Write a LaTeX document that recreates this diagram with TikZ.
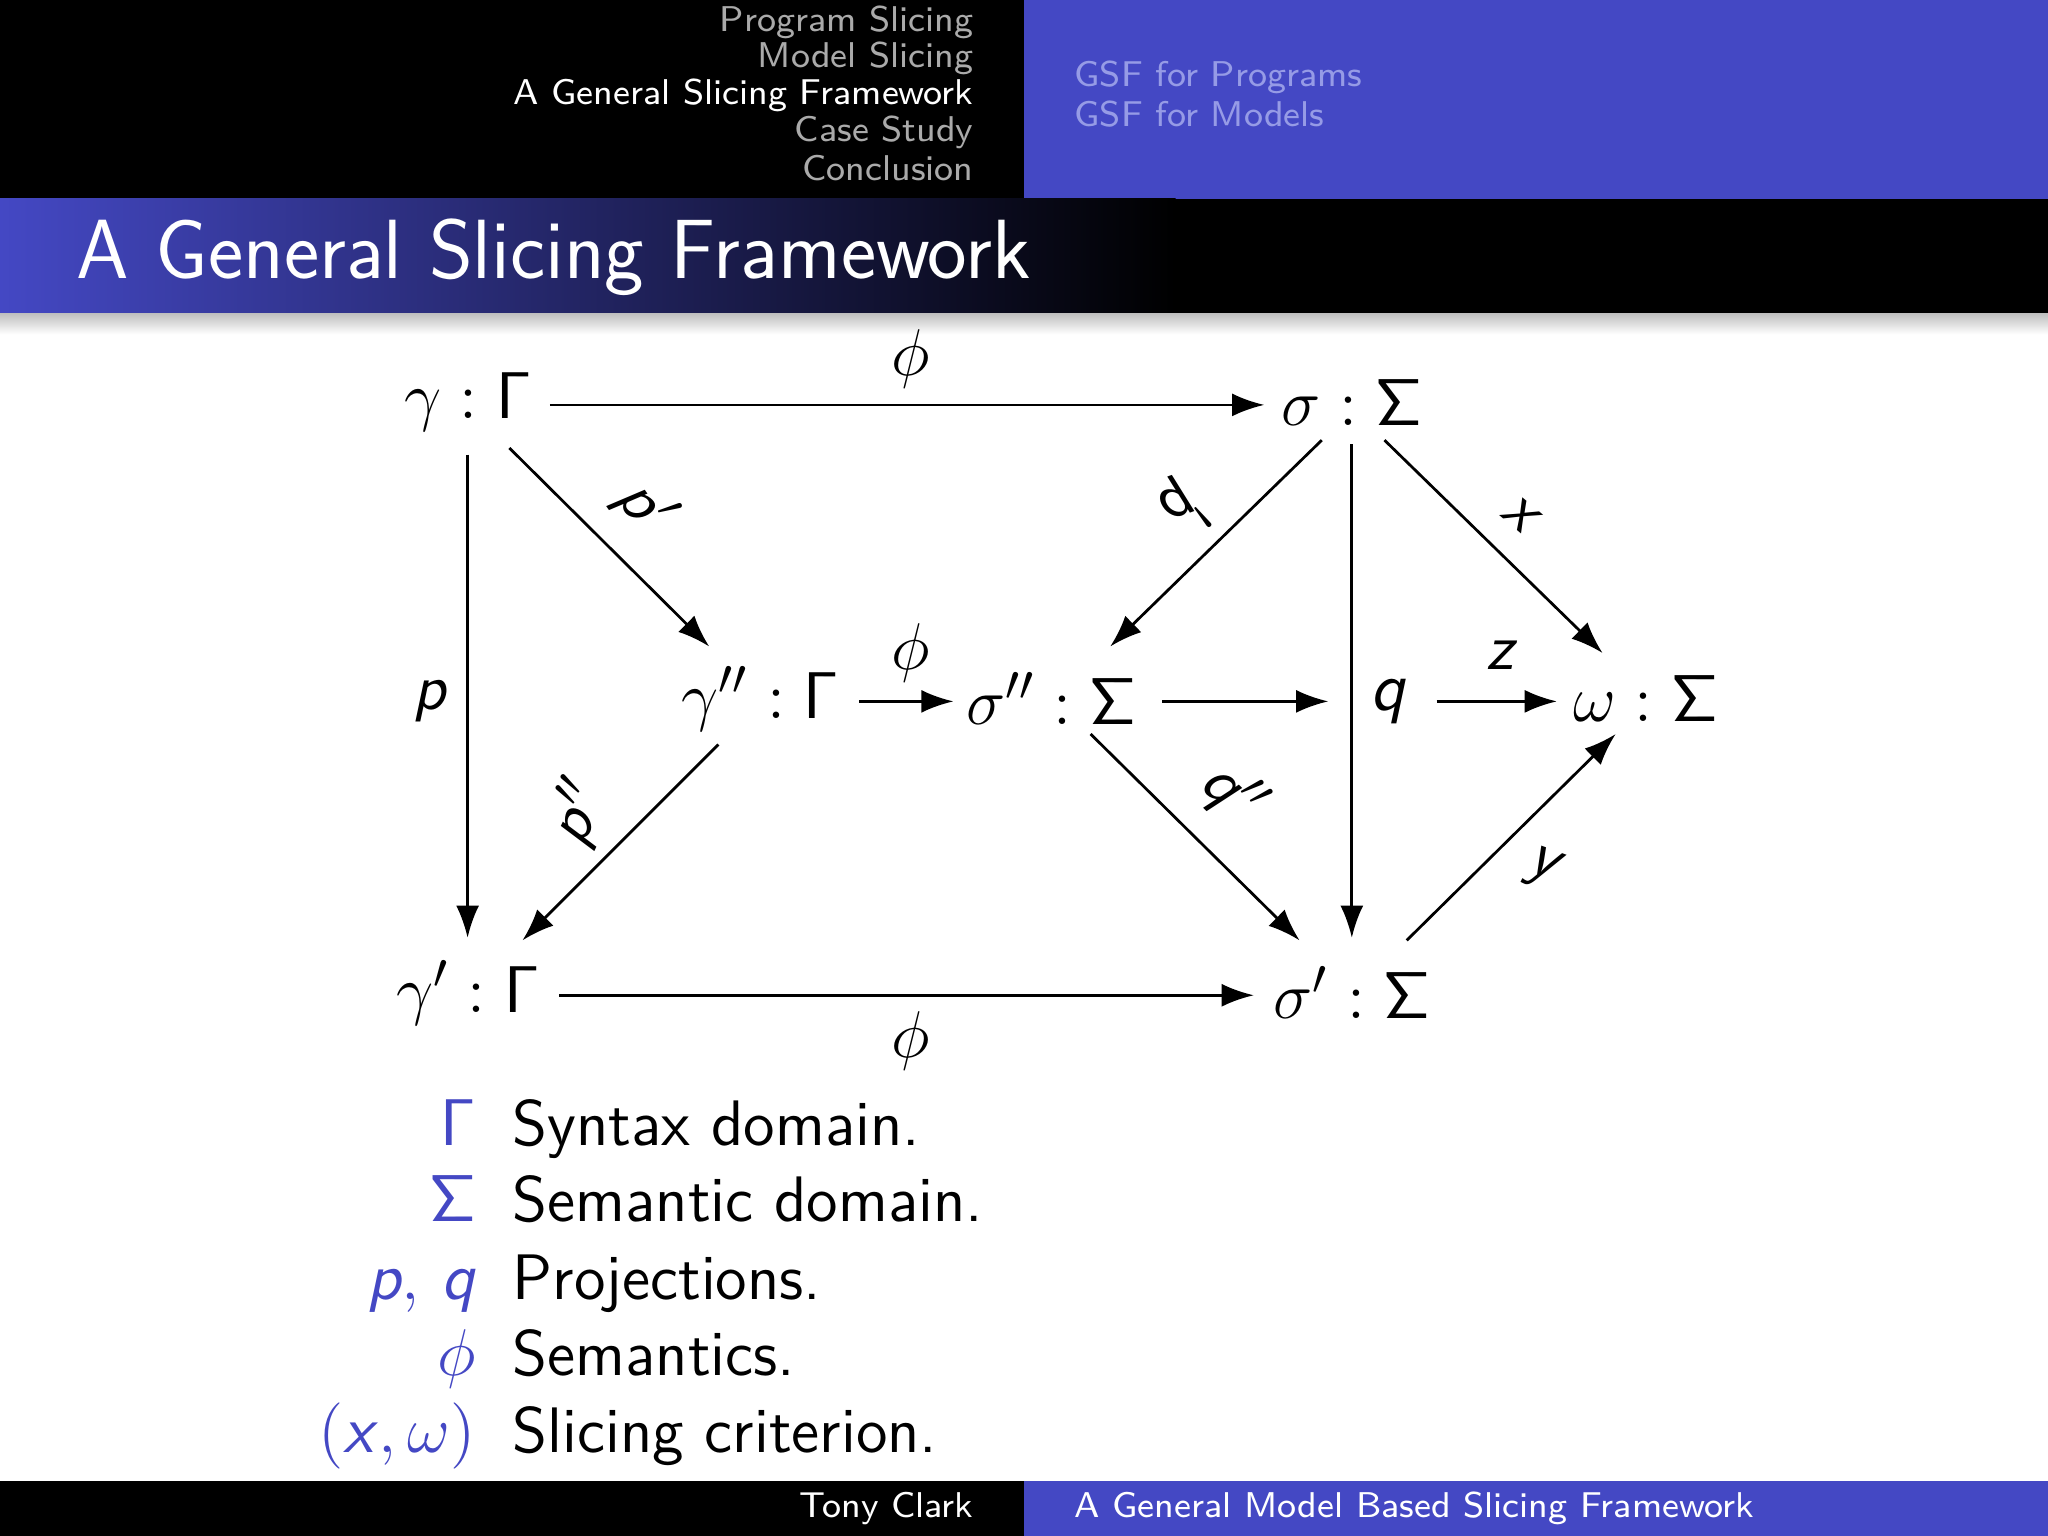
\documentclass[tikz,border=0pt]{standalone}
\usepackage{amsmath}
\usetikzlibrary{arrows.meta}
\newcommand\sv[1]{\textsf{\itshape #1}}
\newcommand\sG{\mathsf{\Gamma}}
\newcommand\sS{\mathsf{\Sigma}}
\begin{document}
\begin{tikzpicture}[x=0.01cm,y=-0.01cm,
  hd/.style={font=\fontsize{7.8}{9}\selectfont\sffamily, inner sep=0},
  mt/.style={font=\fontsize{15}{17}\selectfont, inner sep=2pt},
  lb/.style={font=\fontsize{14}{16}\selectfont, inner sep=0},
  ar/.style={-{Latex[length=7pt,width=5pt]}, line width=0.6pt},
  lg/.style={font=\fontsize{14}{17}\selectfont\sffamily, inner sep=0, anchor=base west},
  lk/.style={font=\fontsize{14.5}{17}\selectfont, text=bblue, inner sep=0, anchor=base east}]
\definecolor{bblue}{RGB}{68,72,196}
\definecolor{hgray}{RGB}{170,170,170}
\definecolor{hblue}{RGB}{150,155,230}
\useasboundingbox (0,0) rectangle (1568,1176);
\fill[white] (0,0) rectangle (1568,1176);
% header
\fill[black] (0,0) rectangle (784,152);
\fill[bblue] (784,0) rectangle (1568,152);
\node[hd,text=hgray,anchor=east] (h1) at (746,17) {Program Slicing};
\node[hd,text=hgray,anchor=east] (h2) at (746,45) {Model Slicing};
\node[hd,text=white,anchor=east] (h3) at (746,73) {A General Slicing Framework};
\node[hd,text=hgray,anchor=east] (h4) at (746,101) {Case Study};
\node[hd,text=hgray,anchor=east] (h5) at (746,129) {Conclusion};
\node[hd,text=hblue,anchor=west] (g1) at (822,59) {GSF for Programs};
\node[hd,text=hblue,anchor=west] (g2) at (822,87) {GSF for Models};
% title
\shade[left color=bblue, right color=black] (0,152) rectangle (900,240);
\fill[black] (899,152) rectangle (1568,240);
\shade[top color=black!25, bottom color=white] (0,240) rectangle (1568,256);
\node[font=\fontsize{18.3}{22}\selectfont\sffamily,text=white,anchor=west,inner sep=0] (title) at (58,197) {A General Slicing Framework};
% footer
\fill[black] (0,1134) rectangle (784,1176);
\fill[bblue] (784,1134) rectangle (1568,1176);
\node[hd,text=white,anchor=east] (f1) at (746,1155) {Tony Clark};
\node[hd,text=white,anchor=west] (f2) at (822,1155) {A General Model Based Slicing Framework};
% diagram
\node[mt] (g) at (358,308) {$\gamma:\sG$};
\node[mt] (s) at (1035,308) {$\sigma:\sS$};
\node[mt] (g2n) at (582,535) {$\gamma'':\sG$};
\node[mt] (s2) at (805,535) {$\sigma'':\sS$};
\node[mt] (q) at (1063,537) {\sv{q}};
\node[mt] (w) at (1260,535) {$\omega:\sS$};
\node[mt] (g1n) at (358,760) {$\gamma':\sG$};
\node[mt] (s1) at (1035,760) {$\sigma':\sS$};
\coordinate (qv) at (1017,537);
\coordinate (sv1) at (1035,340);
\coordinate (sv2) at (1035,718);
\draw[ar] (421,310) -- (968,310);
\node[lb] (l1) at (697,275) {$\phi$};
\draw[ar] (390,343) -- (543,495);
\node[lb,rotate=-55] (l2) at (494,388) {\sv{p}$'$};
\draw[ar] (358,348) -- (358,718);
\node[lb] (l3) at (330,537) {\sv{p}};
\draw[ar] (658,537) -- (730,537);
\node[lb] (l4) at (697,500) {$\phi$};
\draw[ar] (890,537) -- (qv);
\draw[ar] (1100,537) -- (1192,537);
\node[lb] (l5) at (1150,502) {\sv{z}};
\draw[ar] (sv1) -- (sv2);
\draw[ar] (1012,337) -- (850,495);
\node[lb,yscale=-1,rotate=-20] (l6) at (905,386) {\sv{q}$'$};
\draw[ar] (1060,337) -- (1227,500);
\node[lb,rotate=-40] (l7) at (1165,395) {\sv{x}};
\draw[ar] (835,562) -- (995,720);
\node[lb,rotate=-45] (l8) at (944,608) {\sv{q}$''$};
\draw[ar] (550,570) -- (400,720);
\node[lb,rotate=65] (l9) at (443,622) {\sv{p}$''$};
\draw[ar] (1077,720) -- (1237,562);
\node[lb,rotate=-20] (l10) at (1182,665) {\sv{y}};
\draw[ar] (428,762) -- (960,762);
\node[lb] (l11) at (697,797) {$\phi$};
% legend
\node[lk] (k1) at (365,877) {$\sG$};
\node[lg] (t1) at (392,877) {Syntax domain.};
\node[lk] (k2) at (365,935) {$\sS$};
\node[lg] (t2) at (392,935) {Semantic domain.};
\node[lk] (k3) at (365,995) {\sv{p}, \sv{q}};
\node[lg] (t3) at (392,995) {Projections.};
\node[lk] (k4) at (365,1053) {$\phi$};
\node[lg] (t4) at (392,1053) {Semantics.};
\node[lk] (k5) at (365,1112) {$($\sv{x}$,\omega)$};
\node[lg] (t5) at (392,1112) {Slicing criterion.};
\end{tikzpicture}
\end{document}
